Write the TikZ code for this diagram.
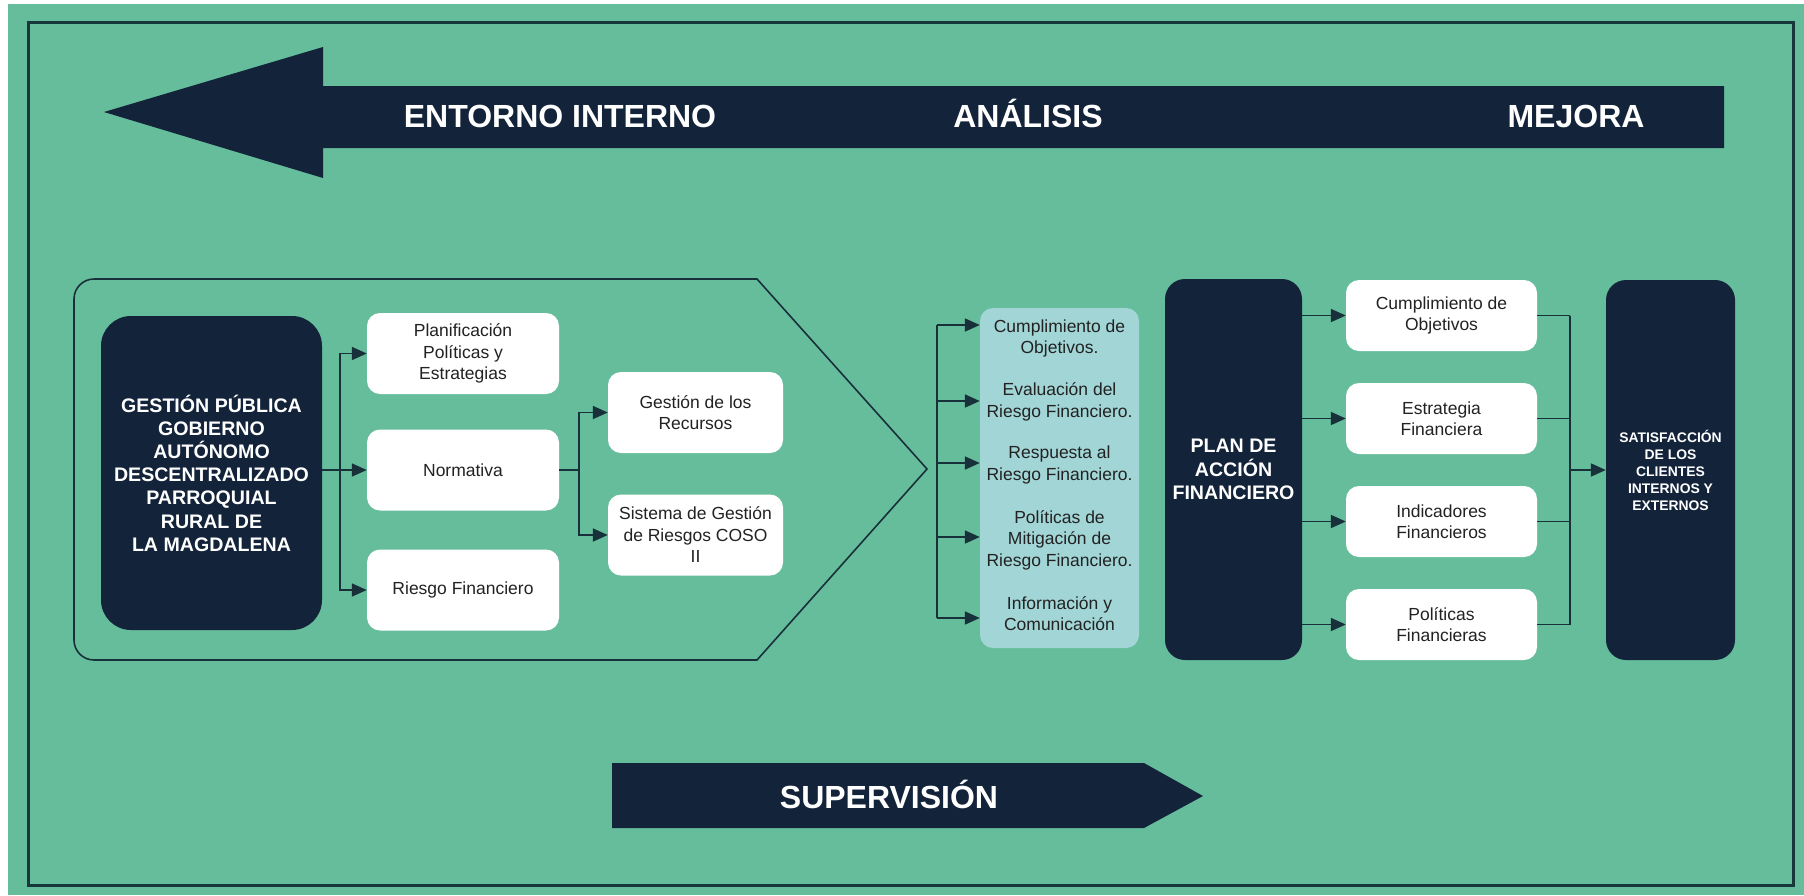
\documentclass[tikz,border=0pt]{standalone}
\usepackage{fontspec}
\setmainfont{Liberation Sans}
\usetikzlibrary{arrows.meta,calc}
\definecolor{bg}{HTML}{66BD9B}
\definecolor{navy}{HTML}{12233A}
\definecolor{framec}{HTML}{16383A}
\definecolor{lineclr}{HTML}{17303A}
\definecolor{lblue}{HTML}{A2D5D6}
\definecolor{txt}{HTML}{222222}
\begin{document}
\begin{tikzpicture}[x=1pt,y=-1pt,
 darkbox/.style={fill=navy, text=white, inner sep=0pt, align=center, font=\bfseries\fontsize{19.6}{23.2}\selectfont},
 wbox/.style={fill=white, rounded corners=13pt, text=txt, inner sep=0pt, minimum width=191pt, minimum height=71pt, align=center, font=\fontsize{17.5}{21.5}\selectfont},
 lbtext/.style={text=txt, inner sep=0pt, align=center, font=\fontsize{17.5}{21.5}\selectfont},
 conn/.style={draw=lineclr, line width=1.8pt},
 arr/.style={conn, -{Triangle[length=15pt,width=13pt]}},
 banner/.style={text=white, font=\bfseries\fontsize{32}{38}\selectfont, inner sep=0pt, anchor=base},
]
\useasboundingbox (0,0) rectangle (1804,895);
\fill[white] (0,0) rectangle (1804,895);
\fill[bg] (8,4) rectangle (1804,895);
\draw[framec, line width=3pt] (28,22) rectangle (1793,885);

% top arrow
\fill[navy] (104,112) -- (323,47) -- (323,86) -- (1724,86) -- (1724,148) -- (323,148) -- (323,178) -- cycle;
\node[banner] (entorno) at (560,127) {ENTORNO INTERNO};
\node[banner] (analisis) at (1028,127) {ANÁLISIS};
\node[banner] (mejora) at (1576,127) {MEJORA};

% pentagon
\draw[conn, line width=1.6pt] (400,279) [rounded corners=20pt] -- (74,279) -- (74,660) -- (400,660) [sharp corners] -- (757,660) -- (927,469) -- (757,279) -- cycle;

% left block
\node[darkbox, rounded corners=30pt, minimum width=221pt, minimum height=314pt] (gp) at (211.5,473)
 {GESTIÓN PÚBLICA\\GOBIERNO\\AUTÓNOMO\\DESCENTRALIZADO\\PARROQUIAL\\RURAL DE\\LA MAGDALENA};
\node[wbox, minimum width=192pt, minimum height=81pt] (planif) at (463,353.5) {Planificación\\Políticas y\\Estrategias};
\node[wbox, minimum width=192pt, minimum height=81pt] (norm) at (463,470) {Normativa};
\node[wbox, minimum width=192pt, minimum height=81pt] (rf) at (463,590) {Riesgo Financiero};
\node[wbox, minimum width=175pt, minimum height=81pt] (gr) at (695.5,412.5) {Gestión de los\\Recursos};
\node[wbox, minimum width=175pt, minimum height=81pt] (sg) at (695.5,535) {Sistema de Gestión\\de Riesgos COSO\\II};

\coordinate (b1) at (340,470);
\draw[conn] (gp.east |- b1) -- (b1);
\draw[arr] (b1) -- (norm.west);
\draw[arr] (b1) |- (planif.west);
\draw[arr] (b1) |- (rf.west);
\coordinate (b2) at (579,470);
\draw[conn] (norm.east) -- (b2);
\draw[arr] (b2) |- (gr.west);
\draw[arr] (b2) |- (sg.west);

% light blue block
\node[fill=lblue, rounded corners=13pt, minimum width=159pt, minimum height=340pt, inner sep=0pt] (lb) at (1059.5,478) {};
\node[lbtext] (t1) at (1059.5,338.5) {Cumplimiento de\\Objetivos.};
\node[lbtext] (t2) at (1059.5,402) {Evaluación del\\Riesgo Financiero.};
\node[lbtext] (t3) at (1059.5,465) {Respuesta al\\Riesgo Financiero.};
\node[lbtext] (t4) at (1059.5,540) {Políticas de\\Mitigación de\\Riesgo Financiero.};
\node[lbtext] (t5) at (1059.5,613.5) {Información y\\Comunicación};
\coordinate (a1) at (937,325);
\coordinate (a2) at (937,401);
\coordinate (a3) at (937,463);
\coordinate (a4) at (937,537);
\coordinate (a5) at (937,618);
\draw[conn] (a1) -- (a5);
\foreach \i in {1,...,5} \draw[arr] (a\i) -- (lb.west |- a\i);

% plan
\node[darkbox, rounded corners=20pt, minimum width=137pt, minimum height=381pt] (plan) at (1233.5,469.5) {PLAN DE\\ACCIÓN\\FINANCIERO};
\node[wbox] (r1) at (1441.5,315.5) {Cumplimiento de\\Objetivos};
\node[wbox] (r2) at (1441.5,418.5) {Estrategia\\Financiera};
\node[wbox] (r3) at (1441.5,521.5) {Indicadores\\Financieros};
\node[wbox] (r4) at (1441.5,624.5) {Políticas\\Financieras};
\node[darkbox, rounded corners=20pt, minimum width=129pt, minimum height=380pt, font=\bfseries\fontsize{13.9}{17}\selectfont] (sat) at (1670.5,470)
 {SATISFACCIÓN\\DE LOS\\CLIENTES\\INTERNOS Y\\EXTERNOS};
\foreach \n in {r1,r2,r3,r4} \draw[arr] (plan.east |- \n.west) -- (\n.west);
\coordinate (b4) at (1570,470);
\foreach \n in {r1,r2,r3,r4} \draw[conn] (\n.east) -- (b4 |- \n.east);
\draw[conn] (b4 |- r1.east) -- (b4 |- r4.east);
\draw[arr] (b4) -- (sat.west);

% supervision arrow
\fill[navy] (612,763) -- (1144,763) -- (1203,796) -- (1144,828) -- (612,828) -- cycle;
\node[banner] (superv) at (889,808) {SUPERVISIÓN};
\end{tikzpicture}
\end{document}
